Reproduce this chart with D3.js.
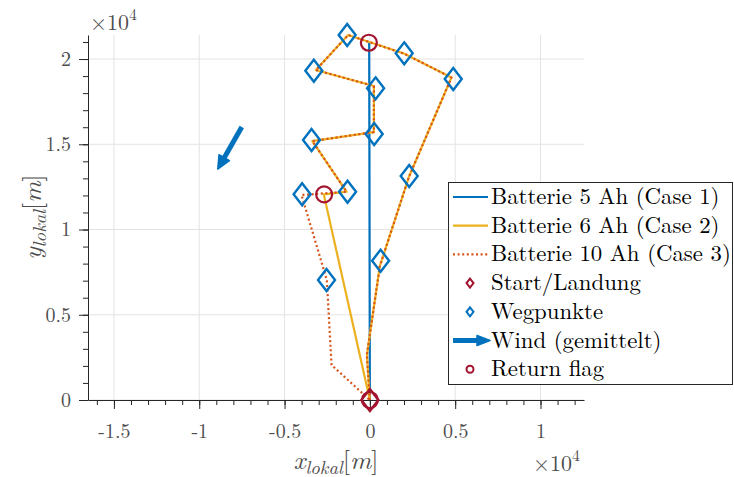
<!DOCTYPE html>
<html>
<head>
<meta charset="utf-8">
<script src="https://cdn.jsdelivr.net/npm/d3@7"></script>
<style>
  body { margin: 0; background: #fff; }
  svg { display: block; }
  .grid line { stroke: #e3e3e3; stroke-width: 1; }
  .axis path, .axis line { stroke: #262626; }
</style>
</head>
<body>
<svg width="734" height="477"></svg>
<script>
// tick positions in units of 1e4 m
var xTicks = [-1.5, -1, -0.5, 0, 0.5, 1];
var yTicks = [0, 0.5, 1, 1.5, 2];

// flight paths in local metres [x, y]
var case1 = [[0, 0], [-40, 20950], [0, 0]];
var case2 = [
  [0, 0], [-176, 2640], [587, 7860], [2287, 13080], [4780, 18915],
  [1994, 20322], [-1273, 21407], [-3167, 19355], [235, 18416],
  [235, 15718], [-3372, 15190], [-1367, 12217], [-2700, 12060], [0, 0]
];
var case3 = [
  [0, 0], [-176, 2640], [587, 7860], [2287, 13080], [4780, 18915],
  [1994, 20322], [-1273, 21407], [-3167, 19355], [235, 18416],
  [235, 15718], [-3372, 15190], [-1367, 12217], [-4006, 12023],
  [-2522, 7038], [-2246, 2053], [0, 0]
];
var waypoints = [
  [-1331, 21407], [2012, 20334], [4886, 18827], [-3284, 19316],
  [334, 18281], [252, 15601], [-3419, 15249], [2305, 13138],
  [-1308, 12217], [-3971, 12064], [628, 8170], [-2540, 7038]
];
var returnFlags = [[-59, 20956], [-2680, 12064], [0, 0]];
var startLanding = [[0, 0]];
var wind = [[-7507, 16011], [-8915, 13548]];

var legendLabels = [
  'Batterie 5 Ah (Case 1)',
  'Batterie 6 Ah (Case 2)',
  'Batterie 10 Ah (Case 3)',
  'Start/Landung',
  'Wegpunkte',
  'Wind (gemittelt)',
  'Return flag'
];

var blue = '#0072BD', yellow = '#EDB120', orange = '#D95319', darkred = '#A2142F';

// pick the first serif face that is really installed
var ctx = document.createElement('canvas').getContext('2d');
function textW(font, s) { ctx.font = font; return ctx.measureText(s).width; }
function pickFont(cands) {
  var s = 'Batterie 10 Ah (Case 3) 0.5 Wlg';
  var b1 = textW('40px monospace', s), b2 = textW('40px sans-serif', s);
  for (var i = 0; i < cands.length; i++) {
    var w1 = textW('40px "' + cands[i] + '", monospace', s);
    var w2 = textW('40px "' + cands[i] + '", sans-serif', s);
    if (w1 !== b1 && w2 !== b2) return cands[i];
  }
  return 'serif';
}
var serif = pickFont(['Latin Modern Roman', 'CMU Serif', 'Liberation Serif', 'DejaVu Serif',
  'Times New Roman', 'Noto Serif', 'Tinos']);
var fam = '"' + serif + '", serif';
// font size that gives a string a wanted pixel width
function fitSize(s, w) { return 40 * w / textW('40px ' + fam, s); }

var svg = d3.select('svg').style('font-family', fam);

var x = d3.scaleLinear().domain([-16520, 12550]).range([88, 584]);
var y = d3.scaleLinear().domain([0, 21410]).range([400, 35]);

var fmt = function(d) { return String(d / 1e4).replace('\u2212', '-'); };
var tickFs = Math.min(22, fitSize('0.5', 25.5));

// grid
var grid = svg.append('g').attr('class', 'grid');
grid.selectAll('line.gx')
  .data(xTicks)
  .enter().append('line')
    .attr('x1', function(d) { return x(d * 1e4); })
    .attr('x2', function(d) { return x(d * 1e4); })
    .attr('y1', y.range()[1])
    .attr('y2', y.range()[0]);
grid.selectAll('line.gy')
  .data(yTicks)
  .enter().append('line')
    .attr('y1', function(d) { return y(d * 1e4); })
    .attr('y2', function(d) { return y(d * 1e4); })
    .attr('x1', x.range()[0])
    .attr('x2', x.range()[1]);

// minor ticks
var minorX = d3.range(-16000, 12001, 1000);
var minorY = d3.range(0, 21001, 1000);

svg.append('g')
  .attr('class', 'axis')
  .attr('transform', 'translate(0,400)')
  .call(d3.axisBottom(x).tickValues(minorX).tickSize(5).tickFormat(''))
  .select('.domain').remove();
svg.append('g')
  .attr('class', 'axis')
  .attr('transform', 'translate(88,0)')
  .call(d3.axisLeft(y).tickValues(minorY).tickSize(5).tickFormat(''))
  .select('.domain').remove();

// major axes
var xAxisG = svg.append('g')
  .attr('class', 'axis')
  .attr('transform', 'translate(0,400)')
  .call(d3.axisBottom(x)
    .tickValues(xTicks.map(function(d) { return d * 1e4; }))
    .tickSize(9).tickSizeOuter(0).tickPadding(15).tickFormat(fmt));
var yAxisG = svg.append('g')
  .attr('class', 'axis')
  .attr('transform', 'translate(88,0)')
  .call(d3.axisLeft(y)
    .tickValues(yTicks.map(function(d) { return d * 1e4; }))
    .tickSize(9).tickSizeOuter(0).tickPadding(8).tickFormat(fmt));
[xAxisG, yAxisG].forEach(function(g) {
  g.attr('font-family', fam).attr('font-size', tickFs)
    .selectAll('text').attr('fill', '#4d4d4d');
});

// flight paths
var line = d3.line()
  .x(function(d) { return x(d[0]); })
  .y(function(d) { return y(d[1]); });

var paths = svg.append('g').attr('fill', 'none').attr('stroke-linejoin', 'round');
paths.append('path').datum(case1).attr('d', line).attr('stroke', blue).attr('stroke-width', 2.2);
paths.append('path').datum(case2).attr('d', line).attr('stroke', yellow).attr('stroke-width', 2.2);
paths.append('path').datum(case3).attr('d', line).attr('stroke', orange).attr('stroke-width', 2.2)
  .attr('stroke-dasharray', '2,2.6');

function diamond(w, h) {
  return 'M0,' + (-h / 2) + 'L' + (w / 2) + ',0L0,' + (h / 2) + 'L' + (-w / 2) + ',0Z';
}

// waypoints
svg.append('g').selectAll('path.wp')
  .data(waypoints)
  .enter().append('path')
    .attr('d', diamond(17, 22))
    .attr('transform', function(d) { return 'translate(' + x(d[0]) + ',' + y(d[1]) + ')'; })
    .attr('fill', 'none').attr('stroke', blue).attr('stroke-width', 2.4);

// start / landing
svg.append('g').selectAll('path.sl')
  .data(startLanding)
  .enter().append('path')
    .attr('d', diamond(17, 22))
    .attr('transform', function(d) { return 'translate(' + x(d[0]) + ',' + y(d[1]) + ')'; })
    .attr('fill', 'none').attr('stroke', darkred).attr('stroke-width', 2.4);

// return flags
svg.append('g').selectAll('circle.rf')
  .data(returnFlags)
  .enter().append('circle')
    .attr('cx', function(d) { return x(d[0]); })
    .attr('cy', function(d) { return y(d[1]); })
    .attr('r', 8)
    .attr('fill', 'none').attr('stroke', darkred).attr('stroke-width', 2.2);

// wind arrow
function arrow(g, x1, y1, x2, y2, headLen, headW, lw) {
  var dx = x2 - x1, dy = y2 - y1, L = Math.sqrt(dx * dx + dy * dy);
  var ux = dx / L, uy = dy / L, bx = x2 - ux * headLen, by = y2 - uy * headLen;
  g.append('line')
    .attr('x1', x1).attr('y1', y1).attr('x2', bx + ux * 2).attr('y2', by + uy * 2)
    .attr('stroke', blue).attr('stroke-width', lw);
  g.append('path')
    .attr('d', 'M' + x2 + ',' + y2 +
      'L' + (bx - uy * headW / 2) + ',' + (by + ux * headW / 2) +
      'L' + (bx + uy * headW / 2) + ',' + (by - ux * headW / 2) + 'Z')
    .attr('fill', blue).attr('stroke', blue).attr('stroke-width', 1.5)
    .attr('stroke-linejoin', 'round');
}
arrow(svg.append('g'), x(wind[0][0]), y(wind[0][1]), x(wind[1][0]), y(wind[1][1]), 13, 12, 5);

// exponent labels
var expFs = fitSize('\u00d710', 39);
function exponent(px, py) {
  var t = svg.append('text').attr('x', px).attr('y', py)
    .attr('fill', '#4d4d4d').attr('font-size', expFs);
  t.append('tspan').text('\u00d710');
  t.append('tspan').attr('dy', -expFs * 0.45).attr('font-size', expFs * 0.72).text('4');
}
exponent(90, 30);
exponent(533, 471);

// axis labels
var labFs = 26;
function axisLabel(t, v) {
  t.append('tspan').attr('font-style', 'italic').text(v);
  t.append('tspan').attr('font-style', 'italic').attr('font-size', labFs * 0.72).attr('dy', 5).text('lokal');
  t.append('tspan').attr('dy', -5).text('[');
  t.append('tspan').attr('font-style', 'italic').text('m');
  t.append('tspan').text(']');
}
axisLabel(svg.append('text').attr('x', 336).attr('y', 469)
  .attr('text-anchor', 'middle').attr('fill', '#4d4d4d').attr('font-size', labFs), 'x');
axisLabel(svg.append('text').attr('transform', 'translate(41,217) rotate(-90)')
  .attr('text-anchor', 'middle').attr('fill', '#4d4d4d').attr('font-size', labFs), 'y');

// legend
var lg = svg.append('g');
lg.append('rect')
  .attr('x', 448.5).attr('y', 182.5).attr('width', 284).attr('height', 202)
  .attr('fill', '#fff').attr('stroke', '#262626').attr('stroke-width', 1);

var rowY = function(i) { return 197 + i * 28.7; };
var legFs = Math.min(23, fitSize(legendLabels[0], 233), fitSize(legendLabels[2], 240));

lg.selectAll('text')
  .data(legendLabels)
  .enter().append('text')
    .attr('x', 491)
    .attr('y', function(d, i) { return rowY(i) + 7; })
    .attr('font-size', legFs)
    .attr('fill', '#000')
    .text(function(d) { return d; });

lg.append('line').attr('x1', 453).attr('x2', 488).attr('y1', rowY(0)).attr('y2', rowY(0))
  .attr('stroke', blue).attr('stroke-width', 2.2);
lg.append('line').attr('x1', 453).attr('x2', 488).attr('y1', rowY(1)).attr('y2', rowY(1))
  .attr('stroke', yellow).attr('stroke-width', 2.2);
lg.append('line').attr('x1', 453).attr('x2', 488).attr('y1', rowY(2)).attr('y2', rowY(2))
  .attr('stroke', orange).attr('stroke-width', 2.2).attr('stroke-dasharray', '2,2.6');
lg.append('path').attr('d', diamond(7, 9)).attr('transform', 'translate(470,' + rowY(3) + ')')
  .attr('fill', 'none').attr('stroke', darkred).attr('stroke-width', 2);
lg.append('path').attr('d', diamond(7, 9)).attr('transform', 'translate(470,' + rowY(4) + ')')
  .attr('fill', 'none').attr('stroke', blue).attr('stroke-width', 2);
arrow(lg, 453, rowY(5), 490, rowY(5), 13, 10, 5);
lg.append('circle').attr('cx', 470).attr('cy', rowY(6)).attr('r', 3.5)
  .attr('fill', 'none').attr('stroke', darkred).attr('stroke-width', 2);
</script>
</body>
</html>
